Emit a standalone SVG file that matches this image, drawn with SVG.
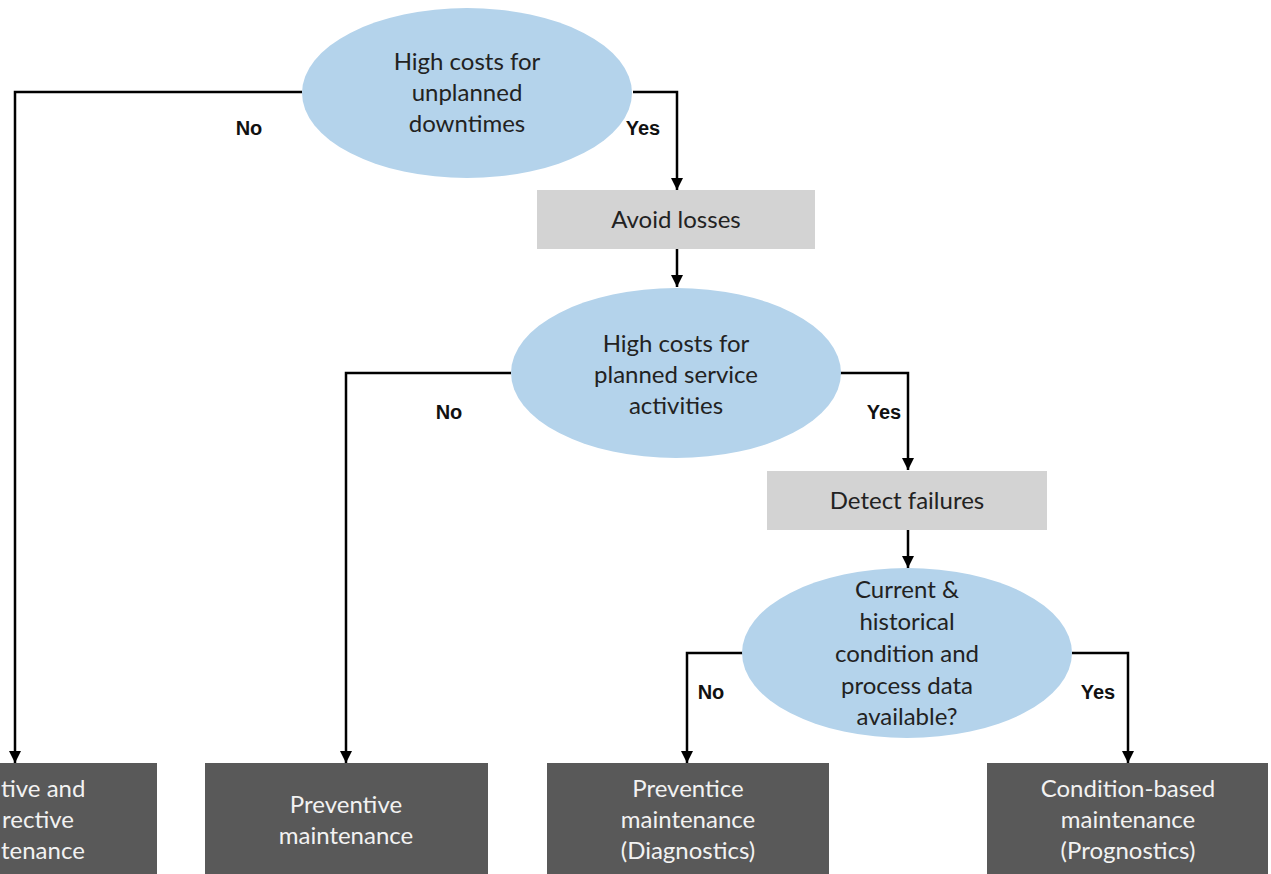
<svg xmlns="http://www.w3.org/2000/svg" width="1271" height="874" viewBox="0 0 1271 874">
<style>
.dec{fill:#b4d3eb;}
.step{fill:#d3d3d3;}
.res{fill:#595959;}
.t{font-family:"Lato","Liberation Sans",sans-serif;font-size:24px;text-anchor:middle;}
.td{fill:#222;}
.tl{fill:#f2f2f2;}
.lbl{font-family:"Liberation Sans",sans-serif;font-size:20px;font-weight:bold;fill:#111;text-anchor:middle;}
.c{fill:none;stroke:#000;stroke-width:2.5;marker-end:url(#ah);}
</style>
<defs>
<marker id="ah" viewBox="0 0 10 10" refX="10" refY="5" markerWidth="5" markerHeight="5" orient="auto" markerUnits="strokeWidth">
<path d="M0,0 L10,5 L0,10 z" fill="#000"/>
</marker>
</defs>
<rect width="1271" height="874" fill="#fff"/>
<g id="connectors">
<path class="c" d="M302,92 H15 V763"/>
<path class="c" d="M633,92 H677 V190"/>
<path class="c" d="M677,249 V287"/>
<path class="c" d="M511,373 H346 V763"/>
<path class="c" d="M840,373 H908 V470"/>
<path class="c" d="M908,530 V568"/>
<path class="c" d="M743,653 H687 V763"/>
<path class="c" d="M1072,653 H1128 V763"/>
</g>
<g id="labels">
<text class="lbl" x="249" y="135">No</text>
<text class="lbl" x="643" y="135">Yes</text>
<text class="lbl" x="449" y="419">No</text>
<text class="lbl" x="884" y="419">Yes</text>
<text class="lbl" x="711" y="699">No</text>
<text class="lbl" x="1098" y="699">Yes</text>
</g>
<g id="q1">
<ellipse class="dec" cx="467" cy="93" rx="165" ry="85"/>
<text class="t td" x="467" y="70">High costs for</text>
<text class="t td" x="467" y="101">unplanned</text>
<text class="t td" x="467" y="132">downtimes</text>
</g>
<g id="avoid">
<rect class="step" x="537" y="190" width="278" height="59"/>
<text class="t td" x="676" y="228">Avoid losses</text>
</g>
<g id="q2">
<ellipse class="dec" cx="676" cy="373" rx="165" ry="85"/>
<text class="t td" x="676" y="352">High costs for</text>
<text class="t td" x="676" y="383">planned service</text>
<text class="t td" x="676" y="414">activities</text>
</g>
<g id="detect">
<rect class="step" x="767" y="471" width="280" height="59"/>
<text class="t td" x="907" y="509">Detect failures</text>
</g>
<g id="q3">
<ellipse class="dec" cx="907" cy="653" rx="165" ry="85"/>
<text class="t td" x="907" y="598">Current &amp;</text>
<text class="t td" x="907" y="630">historical</text>
<text class="t td" x="907" y="662">condition and</text>
<text class="t td" x="907" y="694">process data</text>
<text class="t td" x="907" y="725">available?</text>
</g>
<g id="r1">
<rect class="res" x="-10" y="763" width="167" height="120"/>
<text class="t tl" x="1" y="797" style="text-anchor:start">tive and</text>
<text class="t tl" x="2" y="828" style="text-anchor:start">rective</text>
<text class="t tl" x="1" y="859" style="text-anchor:start">tenance</text>
</g>
<g id="r2">
<rect class="res" x="205" y="763" width="283" height="120"/>
<text class="t tl" x="346" y="813">Preventive</text>
<text class="t tl" x="346" y="844">maintenance</text>
</g>
<g id="r3">
<rect class="res" x="547" y="763" width="282" height="120"/>
<text class="t tl" x="688" y="797">Preventice</text>
<text class="t tl" x="688" y="828">maintenance</text>
<text class="t tl" x="688" y="859">(Diagnostics)</text>
</g>
<g id="r4">
<rect class="res" x="987" y="763" width="281" height="120"/>
<text class="t tl" x="1128" y="797">Condition-based</text>
<text class="t tl" x="1128" y="828">maintenance</text>
<text class="t tl" x="1128" y="859">(Prognostics)</text>
</g>
</svg>
